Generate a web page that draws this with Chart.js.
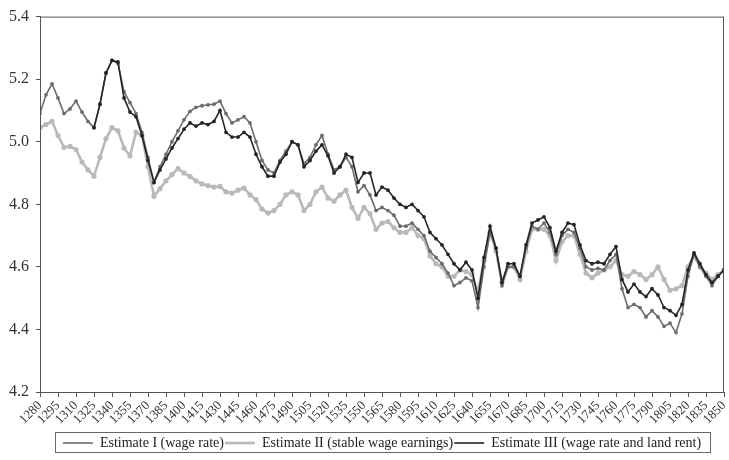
<html>

<head>
    <title>Estimates</title>
    <meta charset="utf-8">
    <script src="https://cdn.jsdelivr.net/npm/chart.js"></script>
    <style>
        body {
            margin: 0;
            background: #fff;
        }

        .chart-wrap {
            position: relative;
            width: 729px;
            height: 460px;
        }

        canvas {
            display: block;
        }

        /* thin frame round the legend */
        .legend-frame {
            position: absolute;
            left: 55px;
            top: 432px;
            width: 656px;
            height: 21px;
            box-sizing: border-box;
            border: 1px solid #666;
            pointer-events: none;
        }
    </style>
</head>

<body>
    <div class="chart-wrap">
        <canvas id="estimateChart" width="729" height="460"></canvas>
        <div class="legend-frame"></div>
    </div>
</body>
<script>
    const years = [
        1280, 1285, 1290, 1295, 1300, 1305, 1310, 1315, 1320, 1325,
        1330, 1335, 1340, 1345, 1350, 1355, 1360, 1365, 1370, 1375,
        1380, 1385, 1390, 1395, 1400, 1405, 1410, 1415, 1420, 1425,
        1430, 1435, 1440, 1445, 1450, 1455, 1460, 1465, 1470, 1475,
        1480, 1485, 1490, 1495, 1500, 1505, 1510, 1515, 1520, 1525,
        1530, 1535, 1540, 1545, 1550, 1555, 1560, 1565, 1570, 1575,
        1580, 1585, 1590, 1595, 1600, 1605, 1610, 1615, 1620, 1625,
        1630, 1635, 1640, 1645, 1650, 1655, 1660, 1665, 1670, 1675,
        1680, 1685, 1690, 1695, 1700, 1705, 1710, 1715, 1720, 1725,
        1730, 1735, 1740, 1745, 1750, 1755, 1760, 1765, 1770, 1775,
        1780, 1785, 1790, 1795, 1800, 1805, 1810, 1815, 1820, 1825,
        1830, 1835, 1840, 1845, 1850
    ]

    const wageRate = [
        5.09, 5.15, 5.185, 5.14, 5.09, 5.105, 5.13, 5.095, 5.065, 5.045,
        5.12, 5.22, 5.26, 5.25, 5.16, 5.125, 5.09, 5.03, 4.95, 4.87,
        4.92, 4.96, 5.0, 5.035, 5.07, 5.097, 5.11, 5.115, 5.118, 5.12,
        5.13, 5.09, 5.06, 5.07, 5.08, 5.06, 5.0, 4.94, 4.91, 4.9,
        4.94, 4.97, 5.0, 4.99, 4.93, 4.95, 4.99, 5.02, 4.96, 4.91,
        4.92, 4.95, 4.92, 4.84, 4.86, 4.83, 4.78, 4.79, 4.78, 4.765,
        4.73, 4.73, 4.74, 4.72, 4.7, 4.65, 4.63, 4.61, 4.58, 4.54,
        4.55, 4.565, 4.555, 4.47, 4.6, 4.71, 4.66, 4.54, 4.6, 4.6,
        4.57, 4.66, 4.73, 4.72, 4.74, 4.71, 4.64, 4.7, 4.72, 4.71,
        4.66, 4.6, 4.59, 4.595, 4.59, 4.62, 4.64, 4.53, 4.47, 4.48,
        4.47, 4.44, 4.46, 4.44, 4.41, 4.42, 4.39, 4.45, 4.57, 4.64,
        4.6, 4.57, 4.54, 4.57, 4.59
    ]

    const stableEarnings = [
        5.045, 5.055, 5.065, 5.02, 4.982, 4.985, 4.975, 4.935, 4.91, 4.89,
        4.95, 5.01, 5.045, 5.035, 4.98, 4.955, 5.03, 5.02, 4.92, 4.826,
        4.85, 4.875, 4.895, 4.914, 4.9, 4.889, 4.875, 4.865, 4.86, 4.855,
        4.857, 4.84, 4.836, 4.845, 4.852, 4.83, 4.815, 4.785, 4.772, 4.78,
        4.8, 4.83, 4.84, 4.83, 4.78, 4.8, 4.84, 4.855, 4.82, 4.81,
        4.83, 4.845, 4.79, 4.755, 4.79, 4.77, 4.72, 4.74, 4.745, 4.725,
        4.71, 4.71, 4.725, 4.7, 4.69, 4.635, 4.61, 4.6, 4.57, 4.57,
        4.59, 4.585, 4.575, 4.52, 4.62, 4.71, 4.65, 4.55, 4.6, 4.6,
        4.56, 4.65, 4.72, 4.72, 4.72, 4.7, 4.62, 4.68, 4.7, 4.7,
        4.64, 4.58, 4.565, 4.58, 4.59, 4.6, 4.62, 4.575, 4.57, 4.585,
        4.575, 4.56, 4.575, 4.6, 4.56, 4.525, 4.53, 4.54, 4.6, 4.635,
        4.6, 4.58, 4.56, 4.575, 4.59
    ]

    const wageAndRent = [
        null, null, null, null, null, null, null, null, null, 5.045,
        5.12, 5.22, 5.26, 5.255, 5.14, 5.095, 5.08, 5.02, 4.94, 4.87,
        4.91, 4.945, 4.98, 5.01, 5.04, 5.06, 5.05, 5.06, 5.055, 5.065,
        5.1, 5.03, 5.015, 5.015, 5.03, 5.015, 4.96, 4.92, 4.89, 4.89,
        4.935, 4.96, 5.0, 4.99, 4.92, 4.94, 4.97, 4.99, 4.955, 4.9,
        4.92, 4.96, 4.95, 4.87, 4.9, 4.9, 4.83, 4.855, 4.845, 4.82,
        4.8, 4.79, 4.8, 4.78, 4.76, 4.71, 4.69, 4.67, 4.64, 4.61,
        4.59, 4.615, 4.59, 4.5, 4.63, 4.73, 4.66, 4.55, 4.61, 4.61,
        4.57, 4.67, 4.74, 4.75, 4.76, 4.725, 4.65, 4.71, 4.74, 4.735,
        4.67, 4.62, 4.61, 4.615, 4.61, 4.64, 4.665, 4.56, 4.52, 4.545,
        4.52, 4.505, 4.53, 4.51, 4.47, 4.46, 4.445, 4.48, 4.59, 4.645,
        4.61, 4.575, 4.55, 4.57, 4.59
    ]

    const xTickLabels = [
        1280, 1295, 1310, 1325, 1340, 1355, 1370, 1385, 1400, 1415,
        1430, 1445, 1460, 1475, 1490, 1505, 1520, 1535, 1550, 1565,
        1580, 1595, 1610, 1625, 1640, 1655, 1670, 1685, 1700, 1715,
        1730, 1745, 1760, 1775, 1790, 1805, 1820, 1835, 1850
    ]

    const serif = 'Liberation Serif'
    const axisColor = '#555'

    // box round the plot area (top and right edges too)
    const plotFrame = {
        id: 'plotFrame',
        afterDatasetsDraw(chart) {
            const { ctx, chartArea } = chart
            ctx.save()
            ctx.strokeStyle = axisColor
            ctx.lineWidth = 1
            ctx.strokeRect(chartArea.left + 0.5, chartArea.top + 0.5,
                chartArea.right - chartArea.left - 1, chartArea.bottom - chartArea.top)
            ctx.restore()
        }
    }

    const ctx = document.getElementById('estimateChart').getContext('2d')
    const estimateChart = new Chart(ctx, {
        type: 'line',
        data: {
            labels: years,
            datasets: [{
                label: 'Estimate I (wage rate)',
                data: wageRate,
                borderColor: '#6c6c6c',
                backgroundColor: '#6c6c6c',
                borderWidth: 1.6,
                pointRadius: 1.1,
                order: 1
            }, {
                label: 'Estimate II (stable wage earnings)',
                data: stableEarnings,
                borderColor: '#b9b9b9',
                backgroundColor: '#b9b9b9',
                borderWidth: 2.6,
                pointRadius: 1.3,
                order: 2
            }, {
                label: 'Estimate III (wage rate and land rent)',
                data: wageAndRent,
                borderColor: '#252525',
                backgroundColor: '#252525',
                borderWidth: 1.6,
                pointRadius: 1.1,
                order: 0
            }]
        },
        options: {
            responsive: false,
            animation: false,
            layout: {
                padding: { top: 15, right: 5, left: 0, bottom: 0 }
            },
            elements: {
                line: { tension: 0 },
                point: { hoverRadius: 0 }
            },
            plugins: {
                tooltip: { enabled: false },
                legend: {
                    position: 'bottom',
                    fullSize: false,
                    labels: {
                        usePointStyle: true,
                        pointStyle: 'line',
                        pointStyleWidth: 30,
                        color: '#222',
                        padding: 1,
                        font: { family: serif, size: 14 },
                        sort: (a, b) => a.datasetIndex - b.datasetIndex
                    }
                }
            },
            scales: {
                x: {
                    type: 'linear',
                    min: 1280,
                    max: 1850,
                    afterBuildTicks: (axis) => {
                        axis.ticks = xTickLabels.map(v => ({ value: v }))
                    },
                    afterFit: (axis) => {
                        axis.height = 43
                        axis.paddingLeft = 0
                        axis.paddingRight = 0
                    },
                    ticks: {
                        autoSkip: false,
                        minRotation: 45,
                        maxRotation: 45,
                        padding: 1,
                        color: '#333',
                        font: { family: serif, size: 13 },
                        callback: (v) => String(v)
                    },
                    grid: {
                        drawOnChartArea: false,
                        tickLength: 5,
                        color: axisColor
                    },
                    border: { color: axisColor }
                },
                y: {
                    min: 4.2,
                    max: 5.4,
                    afterFit: (axis) => {
                        axis.width = 40
                    },
                    ticks: {
                        stepSize: 0.2,
                        padding: 7,
                        color: '#333',
                        font: { family: serif, size: 16 },
                        callback: (v) => v.toFixed(1)
                    },
                    grid: {
                        drawOnChartArea: false,
                        tickLength: 4,
                        color: axisColor
                    },
                    border: { color: axisColor }
                }
            }
        },
        plugins: [plotFrame]
    })
</script>

</html>
